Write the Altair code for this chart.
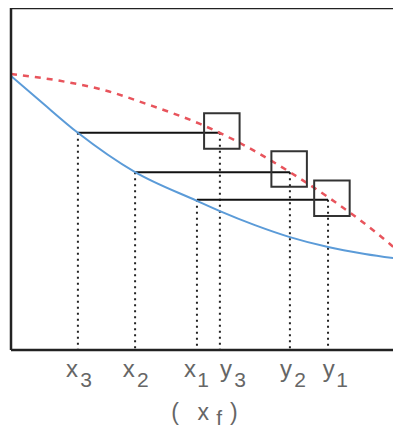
import altair as alt
import pandas as pd

# Curves (x in 0..100 horizontal units, y in 0..100 vertical units)
blue_x = [0, 7.5, 17.2, 31.9, 47.8, 53.7, 62.7, 71.7, 81.5, 91.0, 100]
blue_y = [80.1, 72.8, 63.5, 52.0, 43.6, 40.6, 36.5, 33.0, 30.1, 28.1, 26.6]
red_x = [0, 12.6, 22.9, 35.7, 48.6, 54.2, 64.0, 71.7, 81.5, 89.7, 97.4, 100]
red_y = [80.7, 78.7, 76.3, 71.6, 66.1, 63.2, 57.3, 52.0, 44.7, 38.0, 31.0, 28.4]

# Iteration steps: start x on blue, end y on red
step_from = [17.2, 31.9, 47.8]   # x3, x2, x1
step_to = [53.7, 71.7, 81.5]     # y3, y2, y1
step_level = [63.5, 52.0, 43.9]
box_x = [54.2, 71.5, 82.5]
box_y = [64.0, 52.9, 44.4]

# Tick labels
lab_main = ["x", "x", "x", "y", "y", "y"]
lab_main_x = [15.7, 30.3, 46.0, 55.3, 70.7, 81.7]
lab_sub = ["3", "2", "1", "3", "2", "1"]
lab_sub_x = [19.3, 33.9, 49.4, 58.9, 74.3, 85.1]

W, H = 382, 342
XMAX = 100 * 382 / 389
xs = alt.Scale(domain=[0, XMAX], nice=False, zero=False)
ys = alt.Scale(domain=[0, 100], nice=False, zero=False)

blue = pd.DataFrame({"x": blue_x, "y": blue_y})
red = pd.DataFrame({"x": red_x, "y": red_y})
steps = pd.DataFrame({"x": step_from, "x2": step_to, "y": step_level})
vlines = pd.DataFrame({"x": step_from + step_to, "y": step_level + step_level, "y0": [0] * 6})
boxes = pd.DataFrame({"x": box_x, "y": box_y})
frame_h = pd.DataFrame({"y": [0, 100]})
frame_v = pd.DataFrame({"x": [0]})
mains = pd.DataFrame({"x": lab_main_x, "t": lab_main})
subs = pd.DataFrame({"x": lab_sub_x, "t": lab_sub})
xf_main = pd.DataFrame({"x": [42.2, 49.4, 57.3], "t": ["(", "x", ")"]})
xf_sub = pd.DataFrame({"x": [53.5], "t": ["f"]})

X = lambda f="x": alt.X(f"{f}:Q", scale=xs, axis=None)
Y = lambda f="y": alt.Y(f"{f}:Q", scale=ys, axis=None)

blue_l = alt.Chart(blue).mark_line(color="#5b9bd8", strokeWidth=2, interpolate="monotone", clip=True).encode(x=X(), y=Y())
red_l = alt.Chart(red).mark_line(color="#e8545c", strokeWidth=2.5, strokeDash=[6, 6], interpolate="monotone", clip=True).encode(x=X(), y=Y())
vl = alt.Chart(vlines).mark_rule(color="#222", strokeWidth=2, strokeDash=[2, 4]).encode(x=X(), y=Y(), y2="y0:Q")
hl = alt.Chart(steps).mark_rule(color="#111", strokeWidth=2).encode(x=X(), x2="x2:Q", y=Y())
bx = alt.Chart(boxes).mark_square(filled=False, size=1260, color="#333", strokeWidth=2, opacity=1).encode(x=X(), y=Y())
fh = alt.Chart(frame_h).mark_rule(color="#222", strokeWidth=2.5).encode(y=Y(), x=alt.value(0), x2=alt.value(W))
fv = alt.Chart(frame_v).mark_rule(color="#222", strokeWidth=2.5).encode(x=X(), y=alt.value(0), y2=alt.value(H))

font = "Liberation Sans"
t_main = alt.Chart(mains).mark_text(font=font, fontSize=24, color="#666", baseline="alphabetic", align="center").encode(x=X(), y=alt.value(369), text="t:N")
t_sub = alt.Chart(subs).mark_text(font=font, fontSize=21, color="#666", baseline="alphabetic", align="center").encode(x=X(), y=alt.value(379), text="t:N")
t_xf = alt.Chart(xf_main).mark_text(font=font, fontSize=23, color="#666", baseline="alphabetic", align="center").encode(x=X(), y=alt.value(412), text="t:N")
t_xfs = alt.Chart(xf_sub).mark_text(font=font, fontSize=21, color="#666", baseline="alphabetic", align="center").encode(x=X(), y=alt.value(417), text="t:N")

chart = alt.layer(vl, hl, blue_l, red_l, bx, fh, fv, t_main, t_sub, t_xf, t_xfs).properties(
    width=W, height=H,
    autosize=alt.AutoSizeParams(type="none"),
    padding={"left": 3, "top": 0, "right": 0, "bottom": 81},
).configure_view(stroke=None)

chart.save("out.html", embed_options={"renderer": "svg", "actions": False})
